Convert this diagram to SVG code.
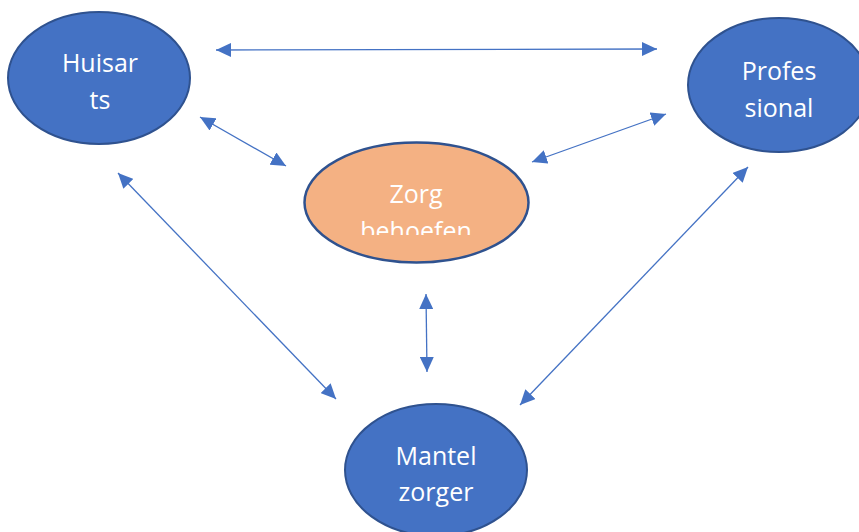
<svg xmlns="http://www.w3.org/2000/svg" width="859" height="532" viewBox="0 0 859 532">
<style>
.node{fill:#4472C4;stroke:#2F528F;stroke-width:2}
.orange{fill:#F4B183;stroke:#2F528F;stroke-width:2.5}
.lbl{font-family:"Open Sans","Liberation Sans",sans-serif;font-size:25px;fill:#FFFFFF;text-anchor:middle}
.conn line{stroke:#4472C4;stroke-width:1.3;fill:none;marker-start:url(#ah);marker-end:url(#ah)}
</style>
<defs>
<marker id="ah" viewBox="0 0 15 14" refX="15" refY="7" markerWidth="15" markerHeight="14" markerUnits="userSpaceOnUse" orient="auto-start-reverse">
<path d="M0,0 L15,7 L0,14 z" fill="#4472C4"/>
</marker>
<clipPath id="zclip"><rect x="300" y="150" width="240" height="85"/></clipPath>
</defs>
<rect width="859" height="532" fill="#FFFFFF"/>
<g id="connectors" class="conn">
<line x1="216" y1="50" x2="657" y2="49"/>
<line x1="200" y1="117" x2="286" y2="166"/>
<line x1="532" y1="162" x2="666" y2="114"/>
<line x1="118" y1="173" x2="336" y2="399"/>
<line x1="748" y1="167" x2="520" y2="405"/>
<line x1="426" y1="294" x2="427" y2="372"/>
</g>
<g id="huisarts">
<ellipse class="node" cx="99" cy="78" rx="91" ry="66"/>
<text class="lbl" x="100" y="72">Huisar</text>
<text class="lbl" x="100" y="109">ts</text>
</g>
<g id="professional">
<ellipse class="node" cx="779" cy="85" rx="91" ry="67"/>
<text class="lbl" x="779" y="80">Profes</text>
<text class="lbl" x="779" y="117">sional</text>
</g>
<g id="zorgbehoefen">
<ellipse class="orange" cx="416.5" cy="202.5" rx="112" ry="60"/>
<g clip-path="url(#zclip)">
<text class="lbl" x="416" y="203">Zorg</text>
<text class="lbl" x="416" y="240">behoefen</text>
</g>
</g>
<g id="mantelzorger">
<ellipse class="node" cx="436" cy="470" rx="91" ry="66"/>
<text class="lbl" x="436" y="465">Mantel</text>
<text class="lbl" x="436" y="501">zorger</text>
</g>
</svg>
